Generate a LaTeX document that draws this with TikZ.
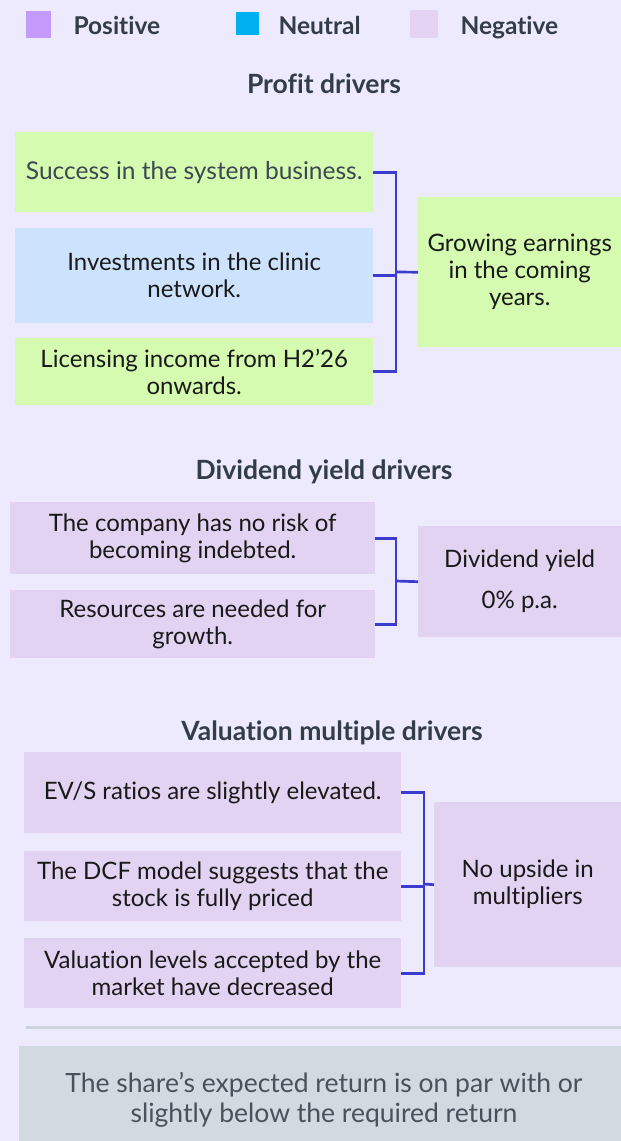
\documentclass[tikz,border=0pt]{standalone}
\usepackage{fontspec}
\setmainfont{Lato}[Ligatures=NoCommon]
\usetikzlibrary{calc}
\definecolor{bg}{HTML}{EDEAFD}
\definecolor{legpos}{HTML}{C49BFC}
\definecolor{legneu}{HTML}{00B0F0}
\definecolor{legneg}{HTML}{E4D3F3}
\definecolor{greenbox}{HTML}{D5FBB0}
\definecolor{bluebox}{HTML}{CDE3FD}
\definecolor{lavbox}{HTML}{E3D3F3}
\definecolor{conncol}{HTML}{3B3BCF}
\definecolor{headcol}{HTML}{333D47}
\definecolor{graytext}{HTML}{3D4751}
\definecolor{sumtext}{HTML}{47525C}
\definecolor{sumbox}{HTML}{D1D9E1}
\definecolor{sepcol}{HTML}{CDD3DC}
\tikzset{
  drvbox/.style={rectangle, inner sep=0pt, anchor=north west, align=center,
    text=black!90, font=\fontsize{24}{27}\selectfont},
  heading/.style={font=\bfseries\fontsize{26.5}{30}\selectfont, text=headcol},
  legtext/.style={font=\bfseries\fontsize{24.5}{28}\selectfont, text=headcol, anchor=base west},
  conn/.style={draw=conncol, line width=2.7pt},
}
\begin{document}
\begin{tikzpicture}[x=1pt,y=-1pt]
\useasboundingbox (0,0) rectangle (621,1141);
\fill[bg] (0,0) rectangle (621,1141);

% legend
\fill[legpos] (26,11) rectangle (51,38);
\node[legtext] (lpos) at (70,34) {Positive};
\fill[legneu] (236,12) rectangle (259,35);
\node[legtext] (lneu) at (275,34) {Neutral};
\fill[legneg] (410,10) rectangle (438,38);
\node[legtext] (lneg) at (457,34) {Negative};

% Profit drivers
\node[heading] (h1) at (324,84) {Profit drivers};
\node[drvbox, fill=greenbox, minimum width=358, minimum height=80, text=graytext, font=\fontsize{24.5}{27}\selectfont] (p1) at (15,132) {\raisebox{-3pt}{Success in the system business.}};
\node[drvbox, fill=bluebox, minimum width=358, minimum height=95] (p2) at (15,228) {Investments in the clinic\\network.};
\node[drvbox, fill=greenbox, minimum width=358, minimum height=67] (p3) at (15,338) {Licensing income from H2’26\\onwards.};
\node[drvbox, fill=greenbox, minimum width=203, minimum height=150] (pr) at (418,197) {Growing earnings\\in the coming\\years.};
\coordinate (pj) at (396,272);
\draw[conn] (p1.east) -- (p1.east -| pj) -- (p3.east -| pj) -- (p3.east);
\draw[conn] (p2.east) -- (p2.east -| pj);
\draw[conn] (pj) -- (pr.west);

% Dividend yield drivers
\node[heading] (h2) at (324,472) {Dividend yield drivers};
\node[drvbox, fill=lavbox, minimum width=365, minimum height=72] (d1) at (10,502) {The company has no risk of\\becoming indebted.};
\node[drvbox, fill=lavbox, minimum width=365, minimum height=68] (d2) at (10,590) {Resources are needed for\\growth.};
\node[drvbox, fill=lavbox, minimum width=203, minimum height=111, font=\fontsize{24}{41}\selectfont] (dr) at (418,526) {\raisebox{-3pt}{Dividend yield}\\\raisebox{-3pt}{0\% p.a.}};
\coordinate (dj) at (396,581);
\draw[conn] (d1.east) -- (d1.east -| dj) -- (d2.east -| dj) -- (d2.east);
\draw[conn] (dj) -- (dr.west);

% Valuation multiple drivers
\node[heading] (h3) at (332,733) {Valuation multiple drivers};
\node[drvbox, fill=lavbox, minimum width=377, minimum height=81] (v1) at (24,752) {EV/S ratios are slightly elevated.};
\node[drvbox, fill=lavbox, minimum width=377, minimum height=70] (v2) at (24,851) {The DCF model suggests that the\\stock is fully priced};
\node[drvbox, fill=lavbox, minimum width=377, minimum height=70] (v3) at (24,938) {Valuation levels accepted by the\\market have decreased};
\node[drvbox, fill=lavbox, minimum width=187, minimum height=165] (vr) at (434,802) {No upside in\\multipliers};
\coordinate (vj) at (424,884);
\draw[conn] (v1.east) -- (v1.east -| vj) -- (v3.east -| vj) -- (v3.east);
\draw[conn] (v2.east) -- (v2.east -| vj);
\draw[conn] (vj) -- (vr.west);

% separator and summary
\draw[sepcol, line width=3pt] (26,1027) -- (621,1027);
\node[rectangle, fill=sumbox, anchor=north west, minimum width=602, minimum height=95, inner sep=0pt] (sum) at (19,1046) {};
\node[align=center, text=sumtext, font=\fontsize{26.5}{30}\selectfont, inner sep=0pt] (sumtxt) at (324,1100)
  {The share’s expected return is on par with or\\slightly below the required return};
\end{tikzpicture}
\end{document}
